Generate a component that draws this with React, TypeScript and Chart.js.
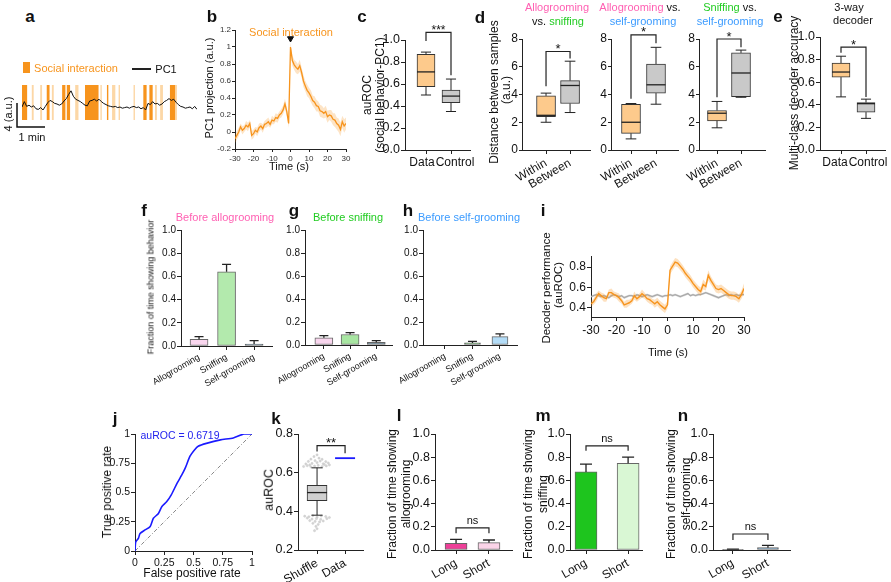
import React, { useEffect, useRef } from 'react';
import { Chart, registerables } from 'chart.js';

Chart.register(...registerables);
const FONT = "'Liberation Sans', Arial, Helvetica, sans-serif";
Chart.defaults.font.family = FONT;
Chart.defaults.color = '#111';

const ORANGE = '#f7941d';
const ORANGE_PALE = '#fcd7a6';
const PINK = '#ff5fb2';
const GREEN = '#22cc22';
const BLUE = '#3b9bff';
const AX = '#222';
const BOX_OR = '#fdca8c';
const BOX_GR = '#c9c9c9';

// ---------- a: PC1 trace ----------
const A_STEP_S = 5;
const A_TRACE = [
  1.0, 1.9, 1.1, 1.3, 1.0, 1.2, 0.7, 0.6, 0.9, 0.5,
  1.1, 1.7, 2.1, 1.9, 1.6, 1.5, 1.3, 1.5, 2.0, 2.4,
  3.1, 3.7, 2.8, 2.3, 2.1, 1.9, 1.6, 1.3, 1.2, 2.0,
  2.1, 2.3, 2.0, 2.3, 1.9, 1.6, 1.4, 1.2, 1.1, 1.0,
  1.1, 0.9, 1.0, 0.8, 0.9, 1.0, 0.8, 1.0, 1.1, 0.9,
  1.0, 0.7, 0.9, 0.5, 1.6, 1.4, 1.9, 1.5, 1.6, 1.3,
  1.5, 1.9, 2.1, 2.4, 2.1, 2.3, 1.8, 1.4, 1.1, 1.0,
  0.8, 0.9, 1.0, 0.7, 1.1, 0.6,
];
const A_SOCIAL = [[0, 11], [53, 59], [86, 93], [96, 103], [135, 164], [182, 185], [260, 267], [273, 280], [317, 328]];
const A_SOCIAL_WEAK = [[21, 25], [39, 43], [64, 68], [114, 121], [168, 171], [193, 200], [207, 210], [239, 242], [285, 289], [296, 302], [328, 332]];
const A_SCALE_S = 60;
const A_SCALE_AU = 4;

// ---------- b: PC1 projection around social interaction ----------
const B_T0 = -30;
const B_MEAN = [
  -0.08, -0.04, 0.0, 0.06, 0.02, 0.04, 0.08, 0.06, 0.1, -0.04,
  -0.02, 0.02, 0.0, 0.05, 0.07, 0.04, 0.09, 0.1, 0.12, 0.09,
  0.14, 0.13, 0.17, 0.16, 0.2, 0.22, 0.26, 0.33, 0.24, 0.1,
  1.0,
  0.84, 0.79, 0.76, 0.74, 0.78, 0.7, 0.6, 0.54, 0.49, 0.46,
  0.42, 0.37, 0.35, 0.31, 0.3, 0.25, 0.24, 0.22, 0.24, 0.18,
  0.2, 0.19, 0.15, 0.14, 0.1, 0.08, 0.03, 0.12, 0.07, 0.1,
];
const B_SEM = [
  0.05, 0.05, 0.05, 0.04, 0.05, 0.04, 0.05, 0.05, 0.04, 0.05,
  0.05, 0.04, 0.05, 0.05, 0.04, 0.05, 0.04, 0.05, 0.05, 0.04,
  0.05, 0.04, 0.05, 0.05, 0.04, 0.05, 0.05, 0.06, 0.05, 0.05,
  0.05,
  0.06, 0.06, 0.07, 0.06, 0.07, 0.06, 0.07, 0.06, 0.07, 0.06,
  0.07, 0.06, 0.07, 0.07, 0.06, 0.07, 0.07, 0.06, 0.07, 0.07,
  0.06, 0.07, 0.07, 0.08, 0.07, 0.08, 0.08, 0.07, 0.08, 0.07,
];
const B_ONSET = { t: 0, y: 1.1 };
const B_XTICKS = [-30, -20, -10, 0, 10, 20, 30];
const B_YTICKS = [-0.2, 0, 0.2, 0.4, 0.6, 0.8, 1, 1.2];

// ---------- c: auROC ----------
const C_CATS = ['Data', 'Control'];
const C_LO = [0.5, 0.35];
const C_Q1 = [0.575, 0.43];
const C_MED = [0.71, 0.49];
const C_Q3 = [0.87, 0.545];
const C_HI = [0.89, 0.645];
const C_SIG = { a: 1, b: 2, y: 1.07, ya: 0.99, yb: 0.68, label: '***' };

// ---------- d: distances ----------
const D_CATS = ['Within', 'Between'];
const D1_LO = [2.0, 2.7], D1_Q1 = [2.4, 3.35], D1_MED = [2.5, 4.65], D1_Q3 = [3.9, 5.0], D1_HI = [4.1, 6.4];
const D2_LO = [0.8, 3.3], D2_Q1 = [1.2, 4.1], D2_MED = [2.0, 4.7], D2_Q3 = [3.3, 6.2], D2_HI = [3.35, 7.4];
const D3_LO = [1.6, 3.8], D3_Q1 = [2.1, 3.85], D3_MED = [2.65, 5.55], D3_Q3 = [2.85, 7.0], D3_HI = [3.5, 7.2];
const D1_SIG = { a: 1, b: 2, y: 7.1, ya: 4.6, yb: 6.6, label: '*' };
const D2_SIG = { a: 1, b: 2, y: 8.3, ya: 3.7, yb: 7.7, label: '*' };
const D3_SIG = { a: 1, b: 2, y: 8.0, ya: 3.8, yb: 7.4, label: '*' };

// ---------- e: 3-way decoder ----------
const E_LO = [0.47, 0.28], E_Q1 = [0.645, 0.335], E_MED = [0.69, 0.41], E_Q3 = [0.77, 0.42], E_HI = [0.83, 0.45];
const E_SIG = { a: 1, b: 2, y: 0.91, ya: 0.86, yb: 0.47, label: '*' };

// ---------- f, g, h: behaviour before events ----------
const FGH_CATS = ['Allogrooming', 'Sniffing', 'Self-grooming'];
const F_VALUES = [0.058, 0.64, 0.017];
const F_ERR = [0.022, 0.064, 0.029];
const G_VALUES = [0.062, 0.091, 0.023];
const G_ERR = [0.02, 0.017, 0.015];
const H_VALUES = [0, 0.018, 0.073];
const H_ERR = [0, 0.014, 0.024];
const FRAC_TICKS = [0, 0.2, 0.4, 0.6, 0.8, 1.0];

// ---------- i: decoder performance ----------
const I_T0 = -30;
const I_ORANGE = [
  0.44, 0.46, 0.50, 0.54, 0.52, 0.50, 0.49, 0.55, 0.55, 0.53,
  0.52, 0.50, 0.47, 0.43, 0.44, 0.45, 0.47, 0.52, 0.49, 0.51,
  0.54, 0.52, 0.49, 0.48, 0.46, 0.44, 0.46, 0.43, 0.41, 0.39,
  0.43,
  0.77, 0.81, 0.85, 0.84, 0.81, 0.78, 0.74, 0.71, 0.68, 0.64,
  0.61, 0.58, 0.56, 0.63, 0.61, 0.72, 0.67, 0.63, 0.59, 0.58,
  0.59, 0.57, 0.55, 0.53, 0.52, 0.52, 0.51, 0.49, 0.53, 0.59,
];
const I_ORANGE_SEM = [
  0.03, 0.03, 0.04, 0.03, 0.03, 0.04, 0.03, 0.03, 0.04, 0.03,
  0.03, 0.04, 0.03, 0.03, 0.04, 0.03, 0.03, 0.04, 0.03, 0.03,
  0.04, 0.03, 0.03, 0.04, 0.03, 0.04, 0.04, 0.04, 0.04, 0.04,
  0.04,
  0.04, 0.04, 0.04, 0.04, 0.04, 0.04, 0.04, 0.04, 0.04, 0.04,
  0.04, 0.04, 0.04, 0.05, 0.04, 0.05, 0.04, 0.04, 0.04, 0.04,
  0.04, 0.04, 0.04, 0.04, 0.04, 0.04, 0.04, 0.04, 0.04, 0.05,
];
const I_GREY = [
  0.51, 0.52, 0.53, 0.52, 0.51, 0.52, 0.51, 0.50, 0.52, 0.53,
  0.52, 0.51, 0.52, 0.50, 0.51, 0.52, 0.52, 0.51, 0.53, 0.52,
  0.51, 0.52, 0.53, 0.52, 0.51, 0.52, 0.53, 0.52, 0.51, 0.52,
  0.52,
  0.53, 0.52, 0.53, 0.52, 0.51, 0.52, 0.53, 0.54, 0.52, 0.53,
  0.52, 0.53, 0.53, 0.54, 0.55, 0.54, 0.53, 0.52, 0.51, 0.50,
  0.51, 0.52, 0.53, 0.52, 0.53, 0.52, 0.53, 0.52, 0.53, 0.53,
];
const I_GREY_SEM = [
  0.012, 0.011, 0.012, 0.013, 0.012, 0.011, 0.012, 0.012, 0.013, 0.012,
  0.011, 0.012, 0.012, 0.013, 0.012, 0.011, 0.012, 0.012, 0.011, 0.012,
  0.013, 0.012, 0.011, 0.012, 0.012, 0.013, 0.012, 0.011, 0.012, 0.012,
  0.012,
  0.012, 0.013, 0.012, 0.011, 0.012, 0.012, 0.013, 0.012, 0.011, 0.012,
  0.012, 0.013, 0.012, 0.012, 0.011, 0.012, 0.012, 0.013, 0.012, 0.012,
  0.011, 0.012, 0.012, 0.013, 0.012, 0.012, 0.011, 0.012, 0.012, 0.012,
];
const I_XTICKS = [-30, -20, -10, 0, 10, 20, 30];
const I_YTICKS = [0.4, 0.6, 0.8];

// ---------- j: ROC ----------
const J_FPR = [0, 0.006, 0.03, 0.043, 0.086, 0.13, 0.157, 0.2, 0.23, 0.27, 0.31, 0.36, 0.4, 0.43, 0.47, 0.51, 0.54, 0.61, 0.73, 0.84, 0.93, 1];
const J_TPR = [0, 0.077, 0.11, 0.15, 0.18, 0.21, 0.28, 0.32, 0.38, 0.42, 0.48, 0.58, 0.65, 0.71, 0.81, 0.865, 0.895, 0.92, 0.95, 0.966, 1, 1];
const J_TICKS = [0, 0.25, 0.5, 0.75, 1];

// ---------- k: shuffle vs data ----------
const K_CATS = ['Shuffle', 'Data'];
const K_LO = [0.38], K_Q1 = [0.455], K_MED = [0.497], K_Q3 = [0.535], K_HI = [0.625];
const K_OUT_X = [0.52, 0.65, 0.78, 0.91, 1.04, 1.18, 1.33, 1.44, 0.6, 0.82, 1.0, 1.22, 1.4, 0.69, 0.93, 1.11, 1.31, 0.78, 1.07, 0.89, 1.18, 1.0, 0.74, 1.26,
  0.56, 0.71, 0.85, 1.0, 1.15, 1.31, 1.44, 0.65, 0.82, 0.98, 1.13, 1.35, 0.74, 0.93, 1.09, 1.22, 0.85, 1.04, 0.96, 1.0, 0.91];
const K_OUT_Y = [0.632, 0.636, 0.63, 0.634, 0.638, 0.631, 0.635, 0.64, 0.645, 0.648, 0.652, 0.646, 0.65, 0.658, 0.662, 0.66, 0.657, 0.67, 0.675, 0.683, 0.669, 0.692, 0.64, 0.642,
  0.375, 0.372, 0.378, 0.37, 0.376, 0.373, 0.368, 0.365, 0.36, 0.362, 0.358, 0.362, 0.352, 0.348, 0.345, 0.35, 0.338, 0.332, 0.322, 0.31, 0.3];
const K_DATA = 0.675;
const K_SIG = { a: 1, b: 2, y: 0.74, ya: 0.71, yb: 0.70, label: '**' };

// ---------- l, m, n: long vs short ----------
const LMN_CATS = ['Long', 'Short'];
const L_VALUES = [0.058, 0.063], L_ERR = [0.034, 0.023];
const M_VALUES = [0.673, 0.747], M_ERR = [0.068, 0.053];
const N_VALUES = [0.005, 0.02], N_ERR = [0.003, 0.02];
const L_SIG = { a: 1, b: 2, y: 0.19, ya: 0.145, yb: 0.145, label: 'ns' };
const M_SIG = { a: 1, b: 2, y: 0.897, ya: 0.856, yb: 0.856, label: 'ns' };
const N_SIG = { a: 1, b: 2, y: 0.138, ya: 0.086, yb: 0.086, label: 'ns' };

// ---------- helpers ----------
const ticksAt = (values: number[]) => (s: any) => { s.ticks = values.map((value) => ({ value })); };
const fmt1 = (v: number) => v.toFixed(1);
const fmtPlain = (v: number) => String(Math.round(v * 100) / 100);
const catFmt = (cats: string[]) => (v: number) => cats[Math.round(v) - 1] ?? '';
const none = () => '';

function axisStyle(tickLen: number) {
  return {
    grid: { display: true, drawOnChartArea: false, drawTicks: true, tickLength: tickLen, color: AX, lineWidth: 1, offset: false },
    border: { display: true, color: AX, width: 1 },
  };
}
function yLin(min: number, max: number, values: number[], fmt: (v: number) => string, size: number, tickLen = 4, color = '#111') {
  return {
    type: 'linear', min, max, offset: false, bounds: 'data', afterBuildTicks: ticksAt(values),
    ticks: { callback: (v: any) => fmt(Number(v)), font: { size }, color, padding: 1, autoSkip: false },
    ...axisStyle(tickLen),
  };
}
function xLin(min: number, max: number, values: number[], fmt: (v: number) => string, size: number, rot = 0, tickLen = 4, color = '#111') {
  return {
    type: 'linear', min, max, offset: false, bounds: 'data', afterBuildTicks: ticksAt(values),
    ticks: { callback: (v: any) => fmt(Number(v)), font: { size }, color, padding: 2, autoSkip: false, minRotation: rot, maxRotation: rot },
    ...axisStyle(tickLen),
  };
}

type Sig = { a: number; b: number; y: number; ya: number; yb: number; label: string };
type Marks = {
  box?: { lo: number[]; med: number[]; hi: number[]; q1: number[]; q3: number[]; w: number };
  err?: { v: number[]; e: number[]; cap: number };
  sig?: Sig;
  sigSize?: number;
};

function marksPlugin(cfg: Marks) {
  return {
    id: 'marks',
    afterDatasetsDraw(chart: any) {
      const { ctx } = chart;
      const xs = chart.scales.x, ys = chart.scales.y;
      ctx.save();
      ctx.strokeStyle = '#222';
      ctx.lineWidth = 1;
      if (cfg.box) {
        const b = cfg.box;
        b.med.forEach((m, i) => {
          const x = xs.getPixelForValue(i + 1);
          const half = b.w / 2, cap = b.w * 0.28;
          ctx.beginPath();
          ctx.moveTo(x, ys.getPixelForValue(b.q3[i]));
          ctx.lineTo(x, ys.getPixelForValue(b.hi[i]));
          ctx.moveTo(x - cap, ys.getPixelForValue(b.hi[i]));
          ctx.lineTo(x + cap, ys.getPixelForValue(b.hi[i]));
          ctx.moveTo(x, ys.getPixelForValue(b.q1[i]));
          ctx.lineTo(x, ys.getPixelForValue(b.lo[i]));
          ctx.moveTo(x - cap, ys.getPixelForValue(b.lo[i]));
          ctx.lineTo(x + cap, ys.getPixelForValue(b.lo[i]));
          ctx.stroke();
          ctx.lineWidth = 1.3;
          ctx.beginPath();
          ctx.moveTo(x - half, ys.getPixelForValue(m));
          ctx.lineTo(x + half, ys.getPixelForValue(m));
          ctx.stroke();
          ctx.lineWidth = 1;
        });
      }
      if (cfg.err) {
        const e = cfg.err;
        e.v.forEach((v, i) => {
          if (e.e[i] <= 0) return;
          const x = xs.getPixelForValue(i + 1);
          const y0 = ys.getPixelForValue(v), y1 = ys.getPixelForValue(v + e.e[i]);
          ctx.lineWidth = 1.3;
          ctx.beginPath();
          ctx.moveTo(x, y0);
          ctx.lineTo(x, y1);
          ctx.moveTo(x - e.cap / 2, y1);
          ctx.lineTo(x + e.cap / 2, y1);
          ctx.stroke();
        });
      }
      if (cfg.sig) {
        const s = cfg.sig;
        const x1 = xs.getPixelForValue(s.a), x2 = xs.getPixelForValue(s.b);
        const yb = ys.getPixelForValue(s.y);
        ctx.lineWidth = 1.2;
        ctx.beginPath();
        ctx.moveTo(x1, ys.getPixelForValue(s.ya));
        ctx.lineTo(x1, yb);
        ctx.lineTo(x2, yb);
        ctx.lineTo(x2, ys.getPixelForValue(s.yb));
        ctx.stroke();
        const isStar = s.label.indexOf('*') >= 0;
        ctx.fillStyle = '#111';
        ctx.font = `${cfg.sigSize || (isStar ? 13 : 11)}px ${FONT}`;
        ctx.textAlign = 'center';
        ctx.textBaseline = 'alphabetic';
        ctx.fillText(s.label, (x1 + x2) / 2, isStar ? yb + 1.5 : yb - 4);
      }
      ctx.restore();
    },
  };
}

function boxDataset(q1: number[], q3: number[], colors: string[], w: number) {
  return {
    type: 'bar',
    data: q1.map((v, i) => ({ x: i + 1, y: [v, q3[i]] })),
    backgroundColor: colors,
    borderColor: '#333',
    borderWidth: 1,
    borderSkipped: false,
    barThickness: w,
  };
}
function barDataset(values: number[], colors: string[], w: number) {
  return {
    type: 'bar',
    data: values.map((v, i) => ({ x: i + 1, y: v })),
    backgroundColor: colors,
    borderColor: '#666',
    borderWidth: 1,
    borderSkipped: false,
    barThickness: w,
  };
}

type Area = { l: number; t: number; r: number; b: number };
type Marg = { l: number; t: number; r: number; b: number };
const DEF_M: Marg = { l: 70, t: 20, r: 30, b: 60 };

function ChartPanel({ area, make, m = DEF_M }: { area: Area; make: () => any; m?: Marg }) {
  const ref = useRef<HTMLCanvasElement | null>(null);
  const w = area.r - area.l + m.l + m.r;
  const h = area.b - area.t + m.t + m.b;
  useEffect(() => {
    const cfg = make();
    const o = cfg.options || (cfg.options = {});
    o.responsive = false;
    o.animation = false;
    o.maintainAspectRatio = false;
    o.events = [];
    o.plugins = { legend: { display: false }, tooltip: { enabled: false }, ...(o.plugins || {}) };
    const sx = o.scales.x, sy = o.scales.y;
    const xHidden = sx.display === false, yHidden = sy.display === false;
    o.layout = { padding: { left: yHidden ? m.l : 0, top: m.t, right: m.r, bottom: xHidden ? m.b : 0 } };
    if (!xHidden) sx.afterFit = (s: any) => { s.height = m.b; };
    if (!yHidden) sy.afterFit = (s: any) => { s.width = m.l; };
    const chart = new Chart(ref.current as HTMLCanvasElement, cfg);
    return () => chart.destroy();
  }, []);
  return (
    <canvas
      ref={ref}
      width={w}
      height={h}
      style={{ position: 'absolute', left: area.l - m.l, top: area.t - m.t, width: w, height: h }}
    />
  );
}

function T({ x, y, s = 12, c = '#111', r = 0, b = false, children }: any) {
  return (
    <div
      style={{
        position: 'absolute', left: x, top: y,
        transform: `translate(-50%, -50%) rotate(${r}deg)`,
        fontSize: s, color: c, fontWeight: b ? 700 : 400,
        whiteSpace: 'nowrap', lineHeight: 1, fontFamily: FONT,
      }}
    >
      {children}
    </div>
  );
}

// ---------- chart builders ----------
const makeA = () => ({
  type: 'line',
  data: {
    datasets: [{
      data: A_TRACE.map((v, i) => ({ x: i * A_STEP_S, y: v })),
      borderColor: '#111', borderWidth: 1, pointRadius: 0, tension: 0,
    }],
  },
  options: {
    scales: {
      x: { type: 'linear', display: false, min: 0, max: 375 },
      y: { type: 'linear', display: false, min: -1.17, max: 4.67 },
    },
  },
  plugins: [{
    id: 'social',
    beforeDatasetsDraw(chart: any) {
      const { ctx, chartArea } = chart;
      const xs = chart.scales.x;
      ctx.save();
      ctx.fillStyle = ORANGE_PALE;
      A_SOCIAL_WEAK.forEach(([s, e]) => {
        const x0 = xs.getPixelForValue(s), x1 = xs.getPixelForValue(e);
        ctx.fillRect(x0, chartArea.top, x1 - x0, chartArea.bottom - chartArea.top);
      });
      ctx.fillStyle = ORANGE;
      A_SOCIAL.forEach(([s, e]) => {
        const x0 = xs.getPixelForValue(s), x1 = xs.getPixelForValue(e);
        ctx.fillRect(x0, chartArea.top, x1 - x0, chartArea.bottom - chartArea.top);
      });
      ctx.restore();
    },
    afterDraw(chart: any) {
      const { ctx } = chart;
      const xs = chart.scales.x, ys = chart.scales.y;
      const t0 = -10.7, v0 = -2.33;
      ctx.save();
      ctx.strokeStyle = '#111';
      ctx.lineWidth = 1.5;
      ctx.beginPath();
      ctx.moveTo(xs.getPixelForValue(t0), ys.getPixelForValue(v0 + A_SCALE_AU));
      ctx.lineTo(xs.getPixelForValue(t0), ys.getPixelForValue(v0));
      ctx.lineTo(xs.getPixelForValue(t0 + A_SCALE_S), ys.getPixelForValue(v0));
      ctx.stroke();
      ctx.restore();
    },
  }],
});

const makeB = () => {
  const t = B_MEAN.map((_, i) => B_T0 + i);
  return {
    type: 'line',
    data: {
      datasets: [
        { data: B_MEAN.map((v, i) => ({ x: t[i], y: v })), borderColor: ORANGE, borderWidth: 1.3, pointRadius: 0, fill: false },
        { data: B_MEAN.map((v, i) => ({ x: t[i], y: v + B_SEM[i] })), borderWidth: 0, pointRadius: 0, fill: '+1', backgroundColor: 'rgba(247,148,29,0.25)' },
        { data: B_MEAN.map((v, i) => ({ x: t[i], y: v - B_SEM[i] })), borderWidth: 0, pointRadius: 0, fill: false },
        { type: 'scatter', data: [{ x: B_ONSET.t, y: B_ONSET.y }], pointStyle: 'triangle', pointRotation: 180, pointRadius: 3.5, pointBackgroundColor: '#111', pointBorderColor: '#111' },
      ],
    },
    options: {
      scales: {
        x: xLin(-30, 30, B_XTICKS, fmtPlain, 8, 0, 3, '#333'),
        y: yLin(-0.2, 1.2, B_YTICKS, fmtPlain, 8, 3, '#333'),
      },
    },
  };
};

const makeBox = (
  cats: string[], lo: number[], q1: number[], med: number[], q3: number[], hi: number[],
  colors: string[], xmin: number, xmax: number, y: any, sig: Sig, w: number, labels: boolean, sigSize?: number,
) => () => ({
  type: 'bar',
  data: { datasets: [boxDataset(q1, q3, colors, w)] },
  options: {
    scales: {
      x: xLin(xmin, xmax, cats.map((_, i) => i + 1), labels ? catFmt(cats) : none, 12, labels ? 30 : 0),
      y,
    },
  },
  plugins: [marksPlugin({ box: { lo, q1, med, q3, hi, w }, sig, sigSize })],
});

const yD = () => yLin(0, 8, [0, 2, 4, 6, 8], fmtPlain, 12, 3);

const makeBars = (
  cats: string[], values: number[], errs: number[], colors: string[], xmin: number, xmax: number,
  w: number, cap: number, tickSize: number, labelSize: number, rot: number, sig?: Sig,
) => () => ({
  type: 'bar',
  data: { datasets: [barDataset(values, colors, w)] },
  options: {
    scales: {
      x: xLin(xmin, xmax, cats.map((_, i) => i + 1), catFmt(cats), labelSize, rot),
      y: yLin(0, 1, FRAC_TICKS, fmt1, tickSize),
    },
  },
  plugins: [marksPlugin({ err: { v: values, e: errs, cap }, sig })],
});

const makeI = () => {
  const t = I_ORANGE.map((_, i) => I_T0 + i);
  return {
    type: 'line',
    data: {
      datasets: [
        { data: I_ORANGE.map((v, i) => ({ x: t[i], y: v })), borderColor: ORANGE, borderWidth: 1.4, pointRadius: 0, fill: false },
        { data: I_ORANGE.map((v, i) => ({ x: t[i], y: v + I_ORANGE_SEM[i] })), borderWidth: 0, pointRadius: 0, fill: '+1', backgroundColor: 'rgba(247,148,29,0.28)' },
        { data: I_ORANGE.map((v, i) => ({ x: t[i], y: v - I_ORANGE_SEM[i] })), borderWidth: 0, pointRadius: 0, fill: false },
        { data: I_GREY.map((v, i) => ({ x: t[i], y: v })), borderColor: '#aaaaaa', borderWidth: 1.3, pointRadius: 0, fill: false },
        { data: I_GREY.map((v, i) => ({ x: t[i], y: v + I_GREY_SEM[i] })), borderWidth: 0, pointRadius: 0, fill: '+1', backgroundColor: 'rgba(170,170,170,0.35)' },
        { data: I_GREY.map((v, i) => ({ x: t[i], y: v - I_GREY_SEM[i] })), borderWidth: 0, pointRadius: 0, fill: false },
      ],
    },
    options: {
      scales: {
        x: xLin(-30, 30, I_XTICKS, fmtPlain, 12, 0, 4),
        y: yLin(0.31, 0.91, I_YTICKS, fmt1, 12, 4),
      },
    },
  };
};

const makeJ = () => ({
  type: 'line',
  data: {
    datasets: [
      { data: J_FPR.map((v, i) => ({ x: v, y: J_TPR[i] })), borderColor: '#1a1aff', borderWidth: 1.6, pointRadius: 0, fill: false, tension: 0.2 },
      { data: [{ x: 0, y: 0 }, { x: 1, y: 1 }], borderColor: '#888', borderWidth: 1, borderDash: [4, 2, 1, 2], pointRadius: 0, fill: false },
    ],
  },
  options: {
    scales: {
      x: xLin(0, 1, J_TICKS, fmtPlain, 10.5, 0, 4),
      y: yLin(0, 1, J_TICKS, fmtPlain, 10.5, 4),
    },
  },
});

const makeK = () => ({
  type: 'bar',
  data: {
    datasets: [
      { type: 'scatter', data: [{ x: 2, y: K_DATA }], pointStyle: 'line', pointRadius: 10, pointBorderColor: '#1a1aff', pointBorderWidth: 1.8 },
      boxDataset(K_Q1, K_Q3, ['#d0d0d0'], 20),
      { type: 'scatter', data: K_OUT_X.map((x, i) => ({ x, y: K_OUT_Y[i] })), pointRadius: 1.1, pointBackgroundColor: '#d4d4d4', pointBorderColor: '#c8c8c8', pointBorderWidth: 0.5 },
    ],
  },
  options: {
    scales: {
      x: xLin(0.32, 2.64, [1, 2], catFmt(K_CATS), 12, 30),
      y: yLin(0.2, 0.8, [0.2, 0.4, 0.6, 0.8], fmt1, 12.5),
    },
  },
  plugins: [marksPlugin({ box: { lo: K_LO, q1: K_Q1, med: K_MED, q3: K_Q3, hi: K_HI, w: 20 }, sig: K_SIG })],
});

const PANELS: { area: Area; make: () => any; m?: Marg }[] = [
  { area: { l: 22, t: 85, r: 197, b: 120 }, make: makeA, m: { l: 22, t: 40, r: 10, b: 30 } },
  { area: { l: 235, t: 30, r: 346, b: 149 }, make: makeB, m: { l: 40, t: 14, r: 14, b: 24 } },
  { area: { l: 405, t: 40, r: 470, b: 150 }, make: makeBox(C_CATS, C_LO, C_Q1, C_MED, C_Q3, C_HI, [BOX_OR, BOX_GR], 0.16, 2.76, yLin(0, 1, FRAC_TICKS, fmt1, 12.5), C_SIG, 18, false, 12) },
  { area: { l: 522, t: 39, r: 590, b: 150 }, make: makeBox(D_CATS, D1_LO, D1_Q1, D1_MED, D1_Q3, D1_HI, [BOX_OR, BOX_GR], 0, 2.83, yD(), D1_SIG, 19, true) },
  { area: { l: 611, t: 39, r: 678, b: 150 }, make: makeBox(D_CATS, D2_LO, D2_Q1, D2_MED, D2_Q3, D2_HI, [BOX_OR, BOX_GR], 0.2, 2.88, yD(), D2_SIG, 19, true) },
  { area: { l: 699, t: 39, r: 765, b: 150 }, make: makeBox(D_CATS, D3_LO, D3_Q1, D3_MED, D3_Q3, D3_HI, [BOX_OR, BOX_GR], 0.25, 3.0, yD(), D3_SIG, 19, true) },
  { area: { l: 820, t: 37, r: 885, b: 150 }, make: makeBox(C_CATS, E_LO, E_Q1, E_MED, E_Q3, E_HI, [BOX_OR, BOX_GR], 0.16, 2.76, yLin(0, 1, FRAC_TICKS, fmt1, 12.5), E_SIG, 18, false), m: { l: 70, t: 20, r: 5, b: 60 } },
  { area: { l: 181, t: 230, r: 272, b: 346 }, make: makeBars(FGH_CATS, F_VALUES, F_ERR, ['#f9d6ee', '#b3eaad', '#5d7888'], 0.345, 3.65, 18, 9, 10, 9, 30) },
  { area: { l: 305, t: 230, r: 392, b: 345 }, make: makeBars(FGH_CATS, G_VALUES, G_ERR, ['#f9d6ee', '#a8e6a2', '#6c8898'], 0.28, 3.6, 18, 9, 10, 9, 30) },
  { area: { l: 423, t: 230, r: 517, b: 345 }, make: makeBars(FGH_CATS, H_VALUES, H_ERR, ['#f9d6ee', '#5f9f5f', '#b3dcf7'], 0.2, 3.62, 16, 9, 10, 9, 30) },
  { area: { l: 591, t: 256, r: 744, b: 317 }, make: makeI },
  { area: { l: 135, t: 434, r: 252, b: 551 }, make: makeJ },
  { area: { l: 298, t: 434, r: 363, b: 550 }, make: makeK },
  { area: { l: 435, t: 434, r: 512, b: 550 }, make: makeBars(LMN_CATS, L_VALUES, L_ERR, ['#ee3f98', '#fbd4e8'], 0.36, 2.7, 22, 12, 12.5, 12, 30, L_SIG) },
  { area: { l: 570, t: 434, r: 642, b: 550 }, make: makeBars(LMN_CATS, M_VALUES, M_ERR, ['#1ec51e', '#d9f7d4'], 0.62, 2.33, 22, 12, 12.5, 12, 30, M_SIG) },
  { area: { l: 713, t: 434, r: 790, b: 550 }, make: makeBars(LMN_CATS, N_VALUES, N_ERR, ['#333333', '#6f8fa8'], 0.43, 2.63, 21, 12, 12.5, 12, 30, N_SIG) },
];

export default function App() {
  return (
    <div style={{ position: 'absolute', left: 0, top: 0, width: 891, height: 582, overflow: 'hidden', background: '#fff', fontFamily: FONT }}>
      {PANELS.map((p, i) => (
        <ChartPanel key={i} area={p.area} make={p.make} m={p.m} />
      ))}

      {/* panel letters */}
      <T x={30} y={16} s={17} b>a</T>
      <T x={212} y={16} s={17} b>b</T>
      <T x={362} y={16} s={17} b>c</T>
      <T x={480} y={17} s={17} b>d</T>
      <T x={778} y={16} s={17} b>e</T>
      <T x={144} y={210} s={17} b>f</T>
      <T x={294} y={210} s={17} b>g</T>
      <T x={408} y={210} s={17} b>h</T>
      <T x={543} y={210} s={17} b>i</T>
      <T x={115} y={418} s={17} b>j</T>
      <T x={276} y={418} s={17} b>k</T>
      <T x={399} y={415} s={17} b>l</T>
      <T x={543} y={415} s={17} b>m</T>
      <T x={683} y={415} s={17} b>n</T>

      {/* a */}
      <div style={{ position: 'absolute', left: 23, top: 62, width: 7, height: 11, background: ORANGE }} />
      <T x={76} y={68} s={11} c={ORANGE}>Social interaction</T>
      <div style={{ position: 'absolute', left: 132, top: 68, width: 19, height: 1.5, background: '#222' }} />
      <T x={166} y={69} s={11}>PC1</T>
      <T x={8} y={114} s={11} r={-90}>4 (a.u.)</T>
      <T x={32} y={137} s={11}>1 min</T>

      {/* b */}
      <T x={291} y={32} s={11} c={ORANGE}>Social interaction</T>
      <T x={209} y={88} s={11} r={-90}>PC1 projection (a.u.)</T>
      <T x={289} y={166} s={11}>Time (s)</T>

      {/* c */}
      <T x={367} y={95} s={12} r={-90}>auROC</T>
      <T x={380} y={95} s={12} r={-90}>(social behavior-PC1)</T>
      <T x={422} y={162} s={12}>Data</T>
      <T x={455} y={162} s={12}>Control</T>

      {/* d */}
      <T x={557} y={7} s={11} c={PINK}>Allogrooming</T>
      <T x={558} y={21} s={11}>vs. <span style={{ color: GREEN }}>sniffing</span></T>
      <T x={640} y={7} s={11}><span style={{ color: PINK }}>Allogrooming</span> vs.</T>
      <T x={643} y={21} s={11} c={BLUE}>self-grooming</T>
      <T x={730} y={7} s={11}><span style={{ color: GREEN }}>Sniffing</span> vs.</T>
      <T x={730} y={21} s={11} c={BLUE}>self-grooming</T>
      <T x={494} y={92} s={12} r={-90}>Distance between samples</T>
      <T x={506} y={90} s={12} r={-90}>(a.u.)</T>

      {/* e */}
      <T x={849} y={7} s={11}>3-way</T>
      <T x={853} y={20} s={11}>decoder</T>
      <T x={794} y={93} s={12} r={-90}>Multi-class decoder accuracy</T>
      <T x={835} y={162} s={12}>Data</T>
      <T x={868} y={162} s={12}>Control</T>

      {/* f g h */}
      <T x={225} y={217} s={11} c={PINK}>Before allogrooming</T>
      <T x={348} y={217} s={11} c={GREEN}>Before sniffing</T>
      <T x={469} y={217} s={11} c={BLUE}>Before self-grooming</T>
      <T x={151} y={287} s={9} r={-90}>Fraction of time showing behavior</T>

      {/* i */}
      <T x={547} y={288} s={11.5} r={-90}>Decoder performance</T>
      <T x={559} y={285} s={11.5} r={-90}>(auROC)</T>
      <T x={668} y={352} s={11}>Time (s)</T>

      {/* j */}
      <T x={107} y={492} s={12} r={-90}>True positive rate</T>
      <T x={192} y={573} s={12}>False positive rate</T>
      <T x={180} y={435} s={10.5} c="#2323ee">auROC = 0.6719</T>

      {/* k */}
      <T x={269} y={490} s={12.5} r={-90}>auROC</T>

      {/* l m n */}
      <T x={392} y={494} s={12} r={-90}>Fraction of time showing</T>
      <T x={406} y={494} s={12} r={-90}>allogrooming</T>
      <T x={528} y={494} s={12} r={-90}>Fraction of time showing</T>
      <T x={543} y={494} s={12} r={-90}>sniffing</T>
      <T x={671} y={494} s={12} r={-90}>Fraction of time showing</T>
      <T x={686} y={494} s={12} r={-90}>self-grooming</T>
    </div>
  );
}
